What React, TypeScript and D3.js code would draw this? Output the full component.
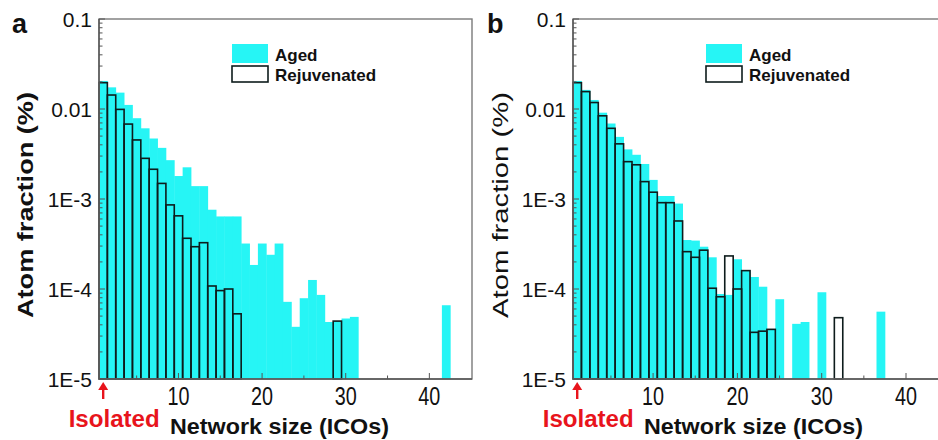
import { useEffect, useRef } from "react";
import * as d3 from "d3";

// Atom fraction (%) by network size; index 0 = size 1, 0 = no bar
const agedA = [
  0.0205, 0.0174, 0.0152, 0.0111, 0.0079, 0.0061, 0.0047, 0.0037, 0.0027, 0.0018,
  0.00225, 0.00139, 0.00139, 7.6e-4, 6.4e-4, 6.4e-4, 6.4e-4, 3.2e-4, 1.85e-4, 3.2e-4,
  2.4e-4, 3.2e-4, 7.2e-5, 3.8e-5, 7.9e-5, 1.26e-4, 8.6e-5, 4.3e-5, 4.4e-5, 4.7e-5,
  4.9e-5, 0, 0, 0, 0, 0, 0, 0, 0, 0,
  0, 6.6e-5,
];
const rejuvA = [
  0.0196, 0.0143, 0.0099, 0.0068, 0.00453, 0.00283, 0.00214, 0.00149, 8.6e-4, 6.5e-4,
  3.66e-4, 2.95e-4, 3.27e-4, 1.08e-4, 9.6e-5, 1.0e-4, 5.3e-5, 0, 0, 0,
  0, 0, 0, 0, 0, 0, 0, 0, 4.4e-5,
];
const agedB = [
  0.0205, 0.0163, 0.0126, 0.0091, 0.0069, 0.0049, 0.00356, 0.0031, 0.00245, 0.00163,
  0.00108, 0.00108, 8.9e-4, 3.5e-4, 3.45e-4, 2.95e-4, 2.25e-4, 8.8e-5, 8.6e-5, 2.14e-4,
  1.6e-4, 1.36e-4, 1.06e-4, 3.6e-5, 7.7e-5, 0, 4.1e-5, 4.3e-5, 0, 9.2e-5,
  0, 0, 0, 0, 0, 0, 5.6e-5,
];
const rejuvB = [
  0.0196, 0.0156, 0.0118, 0.0084, 0.0061, 0.0041, 0.0026, 0.0024, 0.00156, 0.00119,
  9.1e-4, 9.1e-4, 5.7e-4, 2.6e-4, 2.25e-4, 2.7e-4, 1.02e-4, 8.2e-5, 2.33e-4, 1.0e-4,
  1.6e-4, 3.3e-5, 3.4e-5, 3.56e-5, 0, 0, 0, 0, 0, 0,
  0, 4.8e-5,
];

const yTicks = [0.1, 0.01, 0.001, 0.0001, 0.00001];
const yTickLabels = ["0.1", "0.01", "1E-3", "1E-4", "1E-5"];
const xTicks = [10, 20, 30, 40];
const xMinorTicks = [5, 15, 25, 35];
const legendLabels = ["Aged", "Rejuvenated"];

const CYAN = "#26f5f5";
const OUTLINE = "#0e1c1c";
const FONT = "Arial, 'Liberation Sans', sans-serif";

const panels = [
  { letter: "a", aged: agedA, rejuv: rejuvA, left: 99, right: 472, letterX: 12, titleX: 25, titleBold: true },
  { letter: "b", aged: agedB, rejuv: rejuvB, left: 573, right: 949, letterX: 487, titleX: 500, titleBold: false },
];

export default function App() {
  const svgRef = useRef<SVGSVGElement>(null);

  useEffect(() => {
    if (!svgRef.current) return;
    const svg = d3.select(svgRef.current);
    svg.selectAll("*").remove();

    const top = 19;
    const bottom = 379;

    panels.forEach((p) => {
      const x = d3.scaleLinear().domain([0.5, 45.1]).range([p.left, p.right]);
      const y = d3.scaleLog().domain([1e-5, 0.1]).range([bottom, top]);
      const g = svg.append("g");

      const toBars = (vals: number[]) =>
        vals.map((v, i) => ({ n: i + 1, v })).filter((d) => d.v > 0);

      // Aged bars (filled)
      g.selectAll("rect.aged")
        .data(toBars(p.aged))
        .join("rect")
        .attr("x", (d) => x(d.n - 0.5))
        .attr("width", (d) => x(d.n + 0.5) - x(d.n - 0.5) + 0.4)
        .attr("y", (d) => y(d.v))
        .attr("height", (d) => y(1e-5) - y(d.v))
        .attr("fill", CYAN);

      // Rejuvenated bars (outlined)
      g.selectAll("rect.rejuv")
        .data(toBars(p.rejuv))
        .join("rect")
        .attr("x", (d) => x(d.n - 0.5))
        .attr("width", (d) => x(d.n + 0.5) - x(d.n - 0.5))
        .attr("y", (d) => y(d.v))
        .attr("height", (d) => y(1e-5) - y(d.v))
        .attr("fill", "none")
        .attr("stroke", OUTLINE)
        .attr("stroke-width", 1.6);

      // Frame
      g.append("rect")
        .attr("x", p.left)
        .attr("y", top)
        .attr("width", p.right - p.left)
        .attr("height", bottom - top)
        .attr("fill", "none")
        .attr("stroke", "#7a7a7a")
        .attr("stroke-width", 1.4);
      g.append("line")
        .attr("x1", p.left).attr("x2", p.left)
        .attr("y1", top).attr("y2", bottom)
        .attr("stroke", "#555").attr("stroke-width", 1.4);
      g.append("line")
        .attr("x1", p.left).attr("x2", p.right)
        .attr("y1", bottom).attr("y2", bottom)
        .attr("stroke", "#555").attr("stroke-width", 1.4);

      // Y ticks (log, inward)
      const yMinor: number[] = [];
      [-5, -4, -3, -2].forEach((k) => {
        for (let m = 2; m <= 9; m++) yMinor.push(m * Math.pow(10, k));
      });
      g.selectAll("line.ymin")
        .data(yMinor)
        .join("line")
        .attr("x1", p.left).attr("x2", p.left + 3.5)
        .attr("y1", (d) => y(d)).attr("y2", (d) => y(d))
        .attr("stroke", "#555").attr("stroke-width", 1);
      g.selectAll("line.ymaj")
        .data(yTicks)
        .join("line")
        .attr("x1", p.left).attr("x2", p.left + 6)
        .attr("y1", (d) => y(d)).attr("y2", (d) => y(d))
        .attr("stroke", "#555").attr("stroke-width", 1);

      g.selectAll("text.ytick")
        .data(yTicks)
        .join("text")
        .attr("x", p.left - 7)
        .attr("y", (d) => y(d))
        .attr("dy", "0.36em")
        .attr("text-anchor", "end")
        .attr("font-family", FONT)
        .attr("font-size", 21)
        .attr("fill", "#111")
        .text((d, i) => yTickLabels[i]);

      // X ticks (inward)
      g.selectAll("line.xmaj")
        .data(xTicks)
        .join("line")
        .attr("x1", (d) => x(d)).attr("x2", (d) => x(d))
        .attr("y1", bottom).attr("y2", bottom - 6)
        .attr("stroke", "#555").attr("stroke-width", 1);
      g.selectAll("line.xmin")
        .data(xMinorTicks)
        .join("line")
        .attr("x1", (d) => x(d)).attr("x2", (d) => x(d))
        .attr("y1", bottom).attr("y2", bottom - 3.5)
        .attr("stroke", "#555").attr("stroke-width", 1);

      g.selectAll("text.xtick")
        .data(xTicks)
        .join("text")
        .attr("x", (d) => x(d))
        .attr("y", 405)
        .attr("text-anchor", "middle")
        .attr("font-family", FONT)
        .attr("font-size", 25)
        .attr("textLength", 22)
        .attr("lengthAdjust", "spacingAndGlyphs")
        .attr("fill", "#111")
        .text((d) => String(d));

      // Axis titles
      g.append("text")
        .attr("x", p.left + 71)
        .attr("y", 434)
        .attr("font-family", FONT)
        .attr("font-size", 22)
        .attr("font-weight", "bold")
        .attr("textLength", 219)
        .attr("lengthAdjust", "spacingAndGlyphs")
        .attr("fill", "#111")
        .text("Network size (ICOs)");

      g.append("text")
        .attr("transform", `translate(${p.titleX},205) rotate(-90)`)
        .attr("text-anchor", "middle")
        .attr("dy", "0.36em")
        .attr("font-family", FONT)
        .attr("font-size", 22)
        .attr("font-weight", p.titleBold ? "bold" : "normal")
        .attr("textLength", 226)
        .attr("lengthAdjust", "spacingAndGlyphs")
        .attr("fill", "#111")
        .text("Atom fraction (%)");

      // Isolated marker
      const xa = x(1);
      g.append("line")
        .attr("x1", xa).attr("x2", xa)
        .attr("y1", 399).attr("y2", 389)
        .attr("stroke", "#e8141c").attr("stroke-width", 2.4);
      g.append("path")
        .attr("d", `M${xa - 5},390 L${xa},382 L${xa + 5},390 Z`)
        .attr("fill", "#e8141c");
      g.append("text")
        .attr("x", xa + 11)
        .attr("y", 427)
        .attr("text-anchor", "middle")
        .attr("font-family", FONT)
        .attr("font-size", 23)
        .attr("font-weight", "bold")
        .attr("textLength", 91)
        .attr("lengthAdjust", "spacingAndGlyphs")
        .attr("fill", "#e8141c")
        .text("Isolated");

      // Legend
      const lx = p.left + 133;
      g.append("rect")
        .attr("x", lx).attr("y", 44).attr("width", 36).attr("height", 19)
        .attr("fill", CYAN);
      g.append("rect")
        .attr("x", lx).attr("y", 66).attr("width", 36).attr("height", 16)
        .attr("fill", "#fff").attr("stroke", OUTLINE).attr("stroke-width", 1.6);
      g.selectAll("text.leg")
        .data(legendLabels)
        .join("text")
        .attr("x", lx + 43)
        .attr("y", (d, i) => 61 + i * 20)
        .attr("font-family", FONT)
        .attr("font-size", 17)
        .attr("font-weight", "bold")
        .attr("fill", "#111")
        .text((d) => d);

      // Panel letter
      g.append("text")
        .attr("x", p.letterX)
        .attr("y", 33)
        .attr("font-family", FONT)
        .attr("font-size", 27)
        .attr("font-weight", "bold")
        .attr("fill", "#111")
        .text(p.letter);
    });
  }, []);

  return (
    <svg
      ref={svgRef}
      width={938}
      height={440}
      style={{ position: "absolute", left: 0, top: 0, background: "#fff" }}
    />
  );
}
